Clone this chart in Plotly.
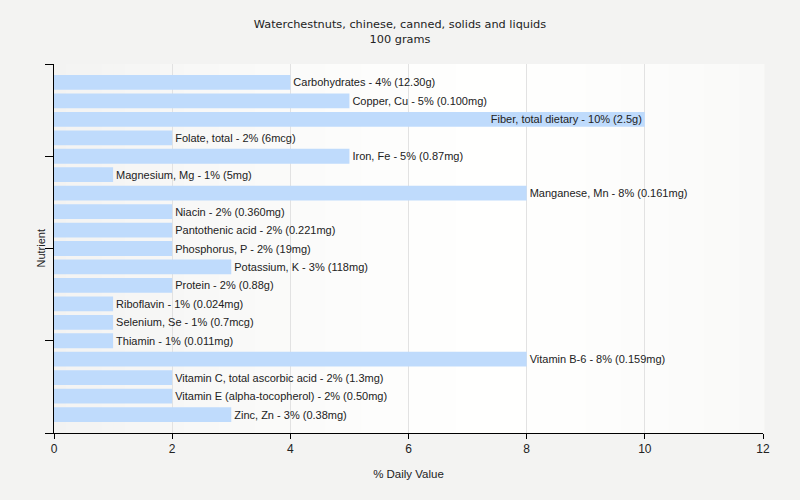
import plotly.graph_objects as go

nutrients = ["Carbohydrates", "Copper, Cu", "Fiber, total dietary", "Folate, total", "Iron, Fe",
             "Magnesium, Mg", "Manganese, Mn", "Niacin", "Pantothenic acid", "Phosphorus, P",
             "Potassium, K", "Protein", "Riboflavin", "Selenium, Se", "Thiamin", "Vitamin B-6",
             "Vitamin C, total ascorbic acid", "Vitamin E (alpha-tocopherol)", "Zinc, Zn"]
dv_percent = [4, 5, 10, 2, 5, 1, 8, 2, 2, 2, 3, 2, 1, 1, 1, 8, 2, 2, 3]
amounts = ["12.30g", "0.100mg", "2.5g", "6mcg", "0.87mg", "5mg", "0.161mg", "0.360mg", "0.221mg",
           "19mg", "118mg", "0.88g", "0.024mg", "0.7mcg", "0.011mg", "0.159mg", "1.3mg", "0.50mg", "0.38mg"]
x_ticks = [0, 2, 4, 6, 8, 10, 12]

labels = [f"{n} - {v}% ({a})" for n, v, a in zip(nutrients, dv_percent, amounts)]
positions = ["inside" if v >= 10 else "outside" for v in dv_percent]
idx = list(range(len(nutrients)))

ARIAL = "Liberation Sans, Arial, sans-serif"
TITLE_FONT = "DejaVu Sans, Verdana, sans-serif"

fig = go.Figure()
fig.add_trace(go.Bar(
    x=dv_percent, y=idx, orientation="h", width=0.8,
    marker=dict(color="#bfdbfc", line=dict(width=0)),
    text=labels, textposition=positions, insidetextanchor="end", constraintext="none",
    textfont=dict(family=ARIAL, size=11, color="#222222"),
    cliponaxis=False, hoverinfo="skip",
))

# background gradient strips (gray at edges, white in middle)
shapes = []
n = 60
for i in range(n):
    t = (i + 0.5) / n
    d = abs(t - 0.62) / 0.62
    g = int(round(255 - 12 * min(1, d) ** 1.3))
    shapes.append(dict(type="rect", xref="paper", yref="paper", x0=i / n, x1=(i + 1) / n + 0.002,
                       y0=0, y1=1, fillcolor=f"rgb({g},{g},{g-1})", line=dict(width=0), layer="below"))

fig.update_layout(
    width=800, height=500,
    margin=dict(l=54, r=37, t=64, b=67),
    paper_bgcolor="#f3f3f2", plot_bgcolor="#f3f3f2",
    shapes=shapes,
    title=dict(text="Waterchestnuts, chinese, canned, solids and liquids<br>100 grams",
               x=0.5, xanchor="center", y=0.944, yanchor="top",
               font=dict(family=TITLE_FONT, size=11.3, color="#222222")),
    font=dict(family=ARIAL, size=12, color="#222222"),
    showlegend=False,
    xaxis=dict(range=[0, 12], tickvals=x_ticks, showgrid=True, gridcolor="#e2e2e2", gridwidth=1,
               zeroline=False, showline=True, linecolor="#000000", linewidth=1,
               ticks="outside", ticklen=5, tickcolor="#000000",
               tickfont=dict(family=ARIAL, size=12, color="#222222"),
               title=dict(text="% Daily Value", font=dict(family=ARIAL, size=11.5), standoff=14)),
    yaxis=dict(range=[19, -1], tickvals=[-1, 4, 9, 14, 19], ticktext=["", "", "", "", ""],
               showgrid=False, zeroline=False, showline=True, linecolor="#000000", linewidth=1,
               ticks="outside", ticklen=8, tickcolor="#000000"),
    annotations=[dict(text="Nutrient", xref="paper", yref="paper", x=0, y=0.5, xshift=-6,
                      xanchor="right", yanchor="middle", textangle=-90, showarrow=False,
                      font=dict(family=ARIAL, size=11, color="#222222"))],
)

fig.write_html("out.html")
